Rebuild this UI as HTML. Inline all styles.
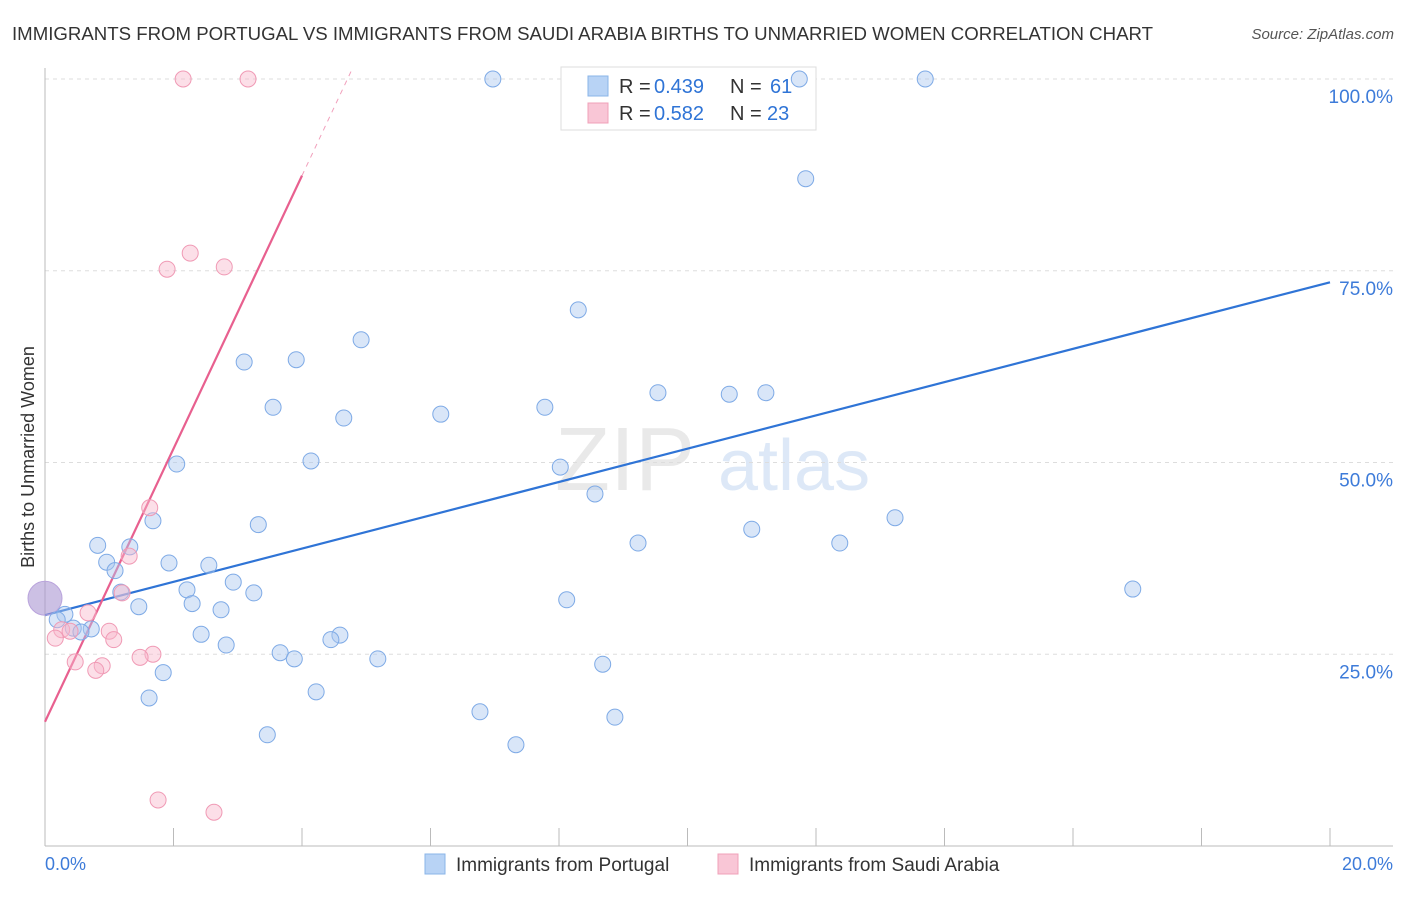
<!DOCTYPE html>
<html><head><meta charset="utf-8"><style>
body{margin:0;background:#fff;font-family:"Liberation Sans",sans-serif;}
svg text{font-family:"Liberation Sans",sans-serif;}
</style></head><body>
<svg id="chart" width="1406" height="892" xmlns="http://www.w3.org/2000/svg">
<text x="12" y="40" font-size="18" fill="#333" textLength="1141" lengthAdjust="spacingAndGlyphs">IMMIGRANTS FROM PORTUGAL VS IMMIGRANTS FROM SAUDI ARABIA BIRTHS TO UNMARRIED WOMEN CORRELATION CHART</text>
<text x="1394" y="39" font-size="15" fill="#555" font-style="italic" text-anchor="end">Source: ZipAtlas.com</text>
<text transform="translate(34,457) rotate(-90)" font-size="18" fill="#333" text-anchor="middle">Births to Unmarried Women</text>
<g opacity="0.25">
<text x="555" y="490" font-size="90" fill="#aaa" font-family="Liberation Serif">ZIP</text>
<text x="718" y="490" font-size="72" fill="#7aa8e0">atlas</text>
</g>
<g id="grid"></g><g id="axes"></g><g id="lines"></g>
<g>
<rect x="561" y="67" width="255" height="63" fill="#fff" stroke="#ddd"/>
<rect x="588" y="76" width="20" height="20" fill="#b8d3f5" stroke="#8ab4e8"/>
<rect x="588" y="103" width="20" height="20" fill="#f9c6d6" stroke="#f0a0b8"/>
<text x="619" y="93" font-size="20" fill="#333">R =</text>
<text x="654" y="93" font-size="20" fill="#2f74d6">0.439</text>
<text x="730" y="93" font-size="20" fill="#333">N =</text>
<text x="770" y="93" font-size="20" fill="#2f74d6">61</text>
<text x="619" y="120" font-size="20" fill="#333">R =</text>
<text x="654" y="120" font-size="20" fill="#2f74d6">0.582</text>
<text x="730" y="120" font-size="20" fill="#333">N =</text>
<text x="767" y="120" font-size="20" fill="#2f74d6">23</text>
</g>
<g id="points"></g>
<text x="45" y="870" font-size="18" fill="#3d7bd9">0.0%</text>
<text x="1393" y="870" font-size="18" fill="#3d7bd9" text-anchor="end">20.0%</text>
<g>
<rect x="425" y="854" width="20" height="20" fill="#b8d3f5" stroke="#8ab4e8"/>
<text x="456" y="871" font-size="19" fill="#333">Immigrants from Portugal</text>
<rect x="718" y="854" width="20" height="20" fill="#f9c6d6" stroke="#f0a0b8"/>
<text x="749" y="871" font-size="19" fill="#333">Immigrants from Saudi Arabia</text>
</g>
</svg>
<script>
const yTicks=[25,50,75,100];
const xTicks=[0,2,4,6,8,10,12,14,16,18,20];
const blueX=[6.97,11.74,13.70,11.84,8.30,4.92,3.10,3.91,3.55,4.65,6.16,7.78,9.54,10.65,11.22,2.05,4.14,8.02,8.56,1.68,3.32,11.00,13.23,9.23,12.37,0.82,1.32,0.96,1.09,1.93,2.55,2.93,1.18,2.21,3.25,1.46,2.29,2.74,8.12,16.93,0.31,0.19,0.44,0.72,0.56,2.43,2.82,4.59,4.45,3.66,3.88,5.18,8.68,1.84,4.22,1.62,6.77,8.87,3.46,7.33];
const blueY=[100,100,100,87.0,69.9,66.0,63.1,63.4,57.2,55.8,56.3,57.2,59.1,58.9,59.1,49.8,50.2,49.4,45.9,42.4,41.9,41.3,42.8,39.5,39.5,39.2,39.0,37.0,35.9,36.9,36.6,34.4,33.1,33.4,33.0,31.2,31.6,30.8,32.1,33.5,30.2,29.5,28.4,28.3,27.9,27.6,26.2,27.5,26.9,25.2,24.4,24.4,23.7,22.6,20.1,19.3,17.5,16.8,14.5,13.2];
const pinkX=[2.15,3.16,2.26,1.90,2.79,1.63,1.31,1.20,0.67,0.26,0.39,0.16,1.00,1.07,1.68,1.48,0.47,0.89,0.79,1.76,2.63];
const pinkY=[100,100,77.3,75.2,75.5,44.1,37.8,33.0,30.4,28.2,28.0,27.1,28.0,26.9,25.0,24.6,24.0,23.5,22.9,6.0,4.4];
const bigPoint=[0,32.3];
const blueLine=[30.1,73.5];
const pinkLine=[16.2,87.4];
const pinkLineEndX=4;
const NS="http://www.w3.org/2000/svg";
const sx=v=>45+v*64.25, sy=v=>846-v*7.67;
function mk(p,t,a){const e=document.createElementNS(NS,t);for(const k in a)e.setAttribute(k,a[k]);document.getElementById(p).appendChild(e);return e;}
yTicks.forEach(t=>{
 const g=mk('grid','line',{x1:45,x2:1393,y1:sy(t),y2:sy(t),stroke:'#ddd','stroke-dasharray':'4,4'});
 
 
 const l=mk('grid','text',{x:1393,y:sy(t)+24,'font-size':19,fill:'#3d7bd9','text-anchor':'end'});
 l.textContent=t.toFixed(1)+'%';
 
 
});
let a=mk('axes','line',{x1:45,x2:45,y1:68,y2:846,stroke:'#bbb'});


a=mk('axes','line',{x1:45,x2:1393,y1:846,y2:846,stroke:'#bbb'});


xTicks.forEach(t=>{
 const k=mk('axes','line',{x1:sx(t),x2:sx(t),y1:828,y2:846,stroke:'#bbb'});
 
 
});
let ln=mk('lines','line',{x1:sx(0),y1:sy(blueLine[0]),x2:sx(20),y2:sy(blueLine[1]),stroke:'#2f74d6','stroke-width':2.2});


ln=mk('lines','line',{x1:sx(0),y1:sy(pinkLine[0]),x2:sx(pinkLineEndX),y2:sy(pinkLine[1]),stroke:'#e8608f','stroke-width':2.2});


const slope=(pinkLine[1]-pinkLine[0])/pinkLineEndX, xe=(101.5-pinkLine[0])/slope;
ln=mk('lines','line',{x1:sx(pinkLineEndX),y1:sy(pinkLine[1]),x2:sx(xe),y2:sy(101.5),stroke:'#e8608f','stroke-width':1,'stroke-dasharray':'5,5',opacity:0.6});


let c=mk('points','circle',{cx:sx(bigPoint[0]),cy:sy(bigPoint[1]),r:17,fill:'rgba(170,150,210,0.6)',stroke:'#b9a3dc'});


blueX.forEach((x,i)=>{
 const p=mk('points','circle',{cx:sx(x),cy:sy(blueY[i]),r:8,fill:'rgba(170,200,240,0.45)',stroke:'#7eaae6','stroke-width':1});
 
 
});
pinkX.forEach((x,i)=>{
 const p=mk('points','circle',{cx:sx(x),cy:sy(pinkY[i]),r:8,fill:'rgba(248,185,205,0.45)',stroke:'#f09ab5','stroke-width':1});
 
 
});
</script>
</body></html>
